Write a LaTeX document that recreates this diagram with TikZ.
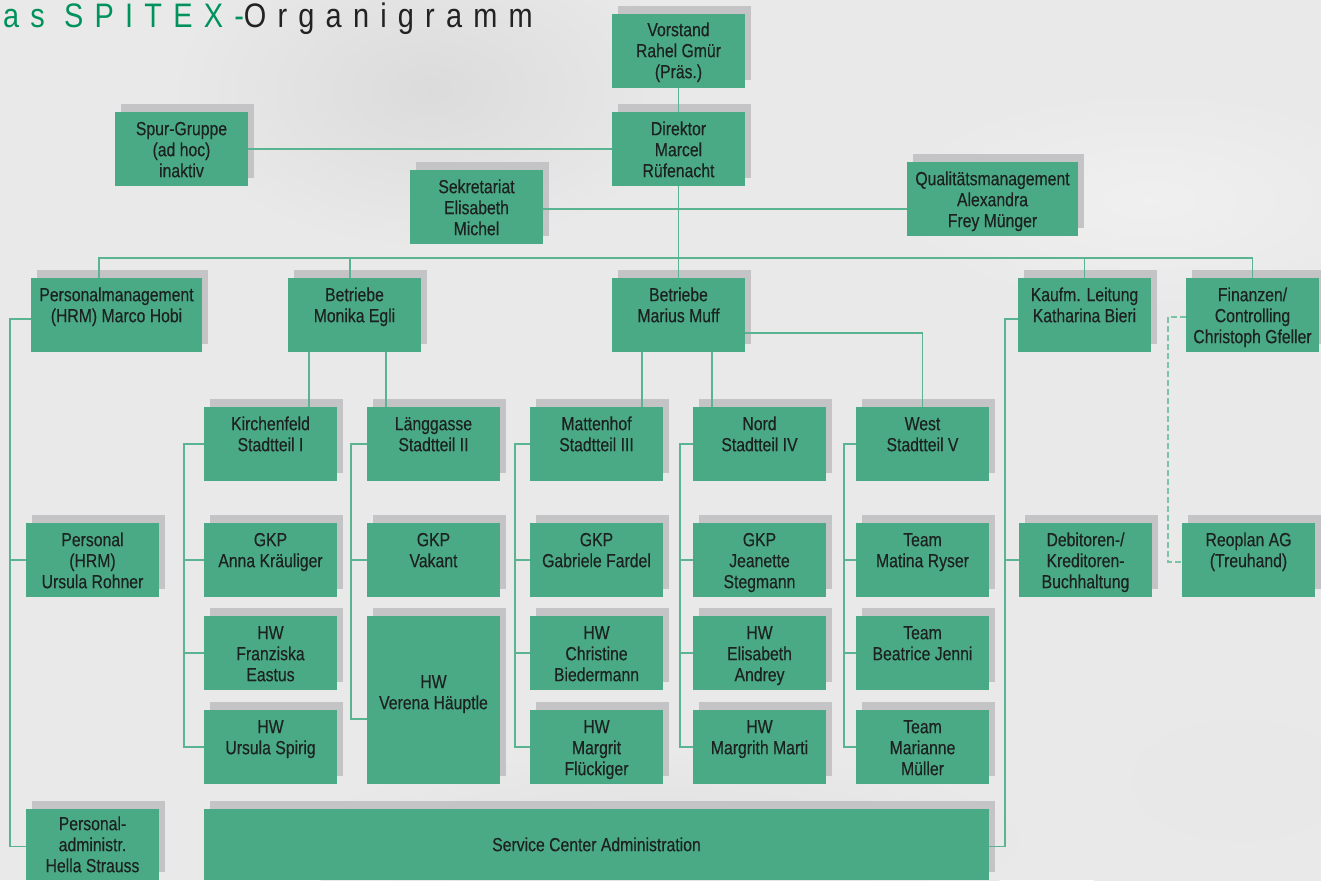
\documentclass[tikz,border=0pt]{standalone}
\usepackage{fontspec}
\setmainfont{Liberation Sans}[FakeStretch=0.83,FakeBold=0.3]
\newfontfamily\titlefont{Liberation Sans}[FakeStretch=0.85,LetterSpace=33]
\definecolor{boxg}{RGB}{74,170,133}
\definecolor{shad}{RGB}{196,196,198}
\definecolor{lineg}{RGB}{90,180,145}
\definecolor{txtc}{RGB}{28,34,33}
\definecolor{titleg}{RGB}{0,146,92}
\definecolor{titled}{RGB}{34,34,36}
\definecolor{bgc}{RGB}{233,233,233}
\tikzset{
  boxst/.style={fill=boxg, draw=none, inner sep=0pt, outer sep=0pt},
  txtst/.style={font=\fontsize{19}{21}\selectfont, align=center, inner sep=0pt, text=txtc},
  conn/.style={draw=lineg, line width=1.5pt},
  dconn/.style={draw=lineg!80, line width=1.5pt, dash pattern=on 6pt off 3pt},
}
\newcommand\orgbox[7][8]{%
  \fill[shad] (#3+6,#4-8) rectangle ++(#5,#6);
  \node[boxst, minimum width=#5pt, minimum height=#6pt, anchor=north west] (#2) at (#3,#4) {};
  \node[txtst, anchor=north] (#2-t) at ([yshift=-#1pt]#2.north) {\rule{0pt}{15pt}#7};
}
\begin{document}
\begin{tikzpicture}[x=1pt, y=-1pt]
\useasboundingbox (0,0) rectangle (1321,880);
\fill[bgc] (0,0) rectangle (1321,880);
% soft background patches
\shade[inner color=black!14, outer color=bgc] (430,90) ellipse (260 and 160);
\shade[inner color=black!12, outer color=bgc] (660,840) ellipse (380 and 90);
\shade[inner color=black!9, outer color=bgc] (1240,780) ellipse (230 and 130);
\shade[inner color=black!6, outer color=bgc] (1150,200) ellipse (260 and 110);

% title
\node[anchor=base west, inner sep=0pt, font=\titlefont\fontsize{34}{38}\selectfont] (title) at (3,28)
  {\textcolor{titleg}{as SPITEX-}\textcolor{titled}{Organigramm}};

% boxes
\orgbox[7]{vorstand}{612}{14}{133}{74}{Vorstand\\Rahel Gmür\\(Präs.)}
\orgbox{direktor}{612}{112}{133}{74}{Direktor\\Marcel\\Rüfenacht}
\orgbox{spur}{115}{112}{133}{74}{Spur-Gruppe\\(ad hoc)\\inaktiv}
\orgbox{sekr}{410}{170}{133}{74}{Sekretariat\\Elisabeth\\Michel}
\orgbox{qual}{907}{162}{171}{74}{Qualitätsmanagement\\Alexandra\\Frey Münger}

\orgbox{pm}{31}{278}{171}{74}{Personalmanagement\\(HRM) Marco Hobi}
\orgbox{egli}{288}{278}{133}{74}{Betriebe\\Monika Egli}
\orgbox{muff}{612}{278}{133}{74}{Betriebe\\Marius Muff}
\orgbox{kaufm}{1018}{278}{133}{74}{Kaufm. Leitung\\Katharina Bieri}
\orgbox{fin}{1186}{278}{133}{74}{Finanzen/\\Controlling\\Christoph Gfeller}

\orgbox{kirch}{204}{407}{133}{74}{Kirchenfeld\\Stadtteil I}
\orgbox{laeng}{367}{407}{133}{74}{Länggasse\\Stadtteil II}
\orgbox{matt}{530}{407}{133}{74}{Mattenhof\\Stadtteil III}
\orgbox{nord}{693}{407}{133}{74}{Nord\\Stadtteil IV}
\orgbox{west}{856}{407}{133}{74}{West\\Stadtteil V}

\orgbox{hrm}{26}{523}{133}{74}{Personal\\(HRM)\\Ursula Rohner}
\orgbox{anna}{204}{523}{133}{74}{GKP\\Anna Kräuliger}
\orgbox{vak}{367}{523}{133}{74}{GKP\\Vakant}
\orgbox{gab}{530}{523}{133}{74}{GKP\\Gabriele Fardel}
\orgbox{jea}{693}{523}{133}{74}{GKP\\Jeanette\\Stegmann}
\orgbox{mat}{856}{523}{133}{74}{Team\\Matina Ryser}
\orgbox{deb}{1019}{523}{133}{74}{Debitoren-/\\Kreditoren-\\Buchhaltung}
\orgbox{reo}{1182}{523}{133}{74}{Reoplan AG\\(Treuhand)}

\orgbox{fra}{204}{616}{133}{74}{HW\\Franziska\\Eastus}
\orgbox[57]{ver}{367}{616}{133}{168}{HW\\Verena Häuptle}
\orgbox{chr}{530}{616}{133}{74}{HW\\Christine\\Biedermann}
\orgbox{eli}{693}{616}{133}{74}{HW\\Elisabeth\\Andrey}
\orgbox{bea}{856}{616}{133}{74}{Team\\Beatrice Jenni}

\orgbox{urs}{204}{710}{133}{74}{HW\\Ursula Spirig}
\orgbox{mar}{530}{710}{133}{74}{HW\\Margrit\\Flückiger}
\orgbox{mmar}{693}{710}{133}{74}{HW\\Margrith Marti}
\orgbox{mull}{856}{710}{133}{74}{Team\\Marianne\\Müller}

\orgbox[6]{padm}{26}{809}{133}{71}{Personal-\\administr.\\Hella Strauss}
\orgbox[27]{sca}{204}{809}{785}{71}{Service Center Administration}

% connectors
\draw[conn] (vorstand.south) -- (direktor.north);
\draw[conn] (spur.east) -- (spur.east -| direktor.west);
\draw[conn] (direktor.south) -- (muff.north);
\draw[conn] ([yshift=-2pt]sekr.east) -- ([yshift=-2pt]sekr.east -| qual.west);
\draw[conn] ([xshift=-17.5pt]pm.north) -- ++(0,-20) -| (fin.north);
\draw[conn] ([xshift=-4.5pt]egli.north) -- ++(0,-20);
\draw[conn] (kaufm.north) -- ++(0,-20);

\draw[conn] ([xshift=-45.5pt]egli.south) -- ([xshift=-45.5pt]egli.south |- kirch.north);
\draw[conn] ([xshift=31.5pt]egli.south) -- ([xshift=31.5pt]egli.south |- laeng.north);
\draw[conn] ([xshift=-36.5pt]muff.south) -- ([xshift=-36.5pt]muff.south |- matt.north);
\draw[conn] ([xshift=33.5pt]muff.south) -- ([xshift=33.5pt]muff.south |- nord.north);
\draw[conn] ([yshift=-18pt]muff.east) -| (west.north);

\draw[conn] (kirch.west) -- ++(-20,0) |- (urs.west);
\draw[conn] (anna.west) -- ++(-20,0);
\draw[conn] (fra.west) -- ++(-20,0);
\draw[conn] (laeng.west) -- ++(-16,0) |- ([yshift=-19pt]ver.west);
\draw[conn] (vak.west) -- ++(-16,0);
\draw[conn] (matt.west) -- ++(-15,0) |- (mar.west);
\draw[conn] (gab.west) -- ++(-15,0);
\draw[conn] (chr.west) -- ++(-15,0);
\draw[conn] (nord.west) -- ++(-13,0) |- (mmar.west);
\draw[conn] (jea.west) -- ++(-13,0);
\draw[conn] (eli.west) -- ++(-13,0);
\draw[conn] (west.west) -- ++(-12,0) |- (mull.west);
\draw[conn] (mat.west) -- ++(-12,0);
\draw[conn] (bea.west) -- ++(-12,0);

\draw[conn] ([yshift=-4pt]pm.west) -- ++(-21,0) |- ([yshift=-2pt]padm.west);
\draw[conn] (hrm.west) -- ++(-16,0);
\draw[conn] ([yshift=-4pt]kaufm.west) -- ++(-13,0) |- ([yshift=-2pt]sca.east);
\draw[conn] (deb.west) -- ++(-14,0);
\draw[dconn] ([yshift=-2pt]fin.west) -- ++(-18,0) |- ([yshift=-2pt]reo.west);
\end{tikzpicture}
\end{document}
